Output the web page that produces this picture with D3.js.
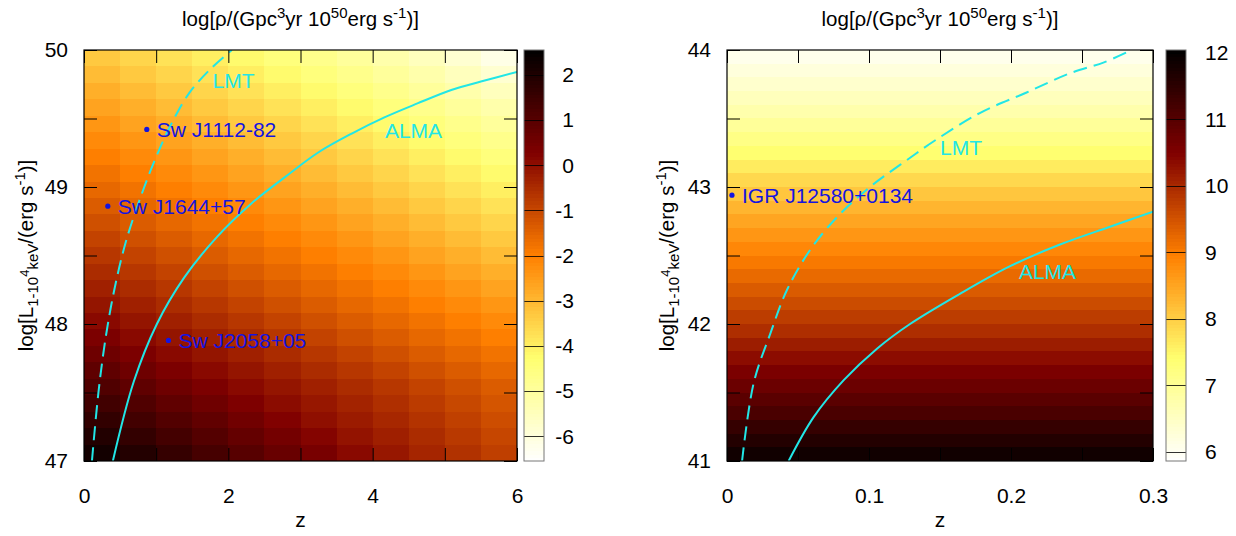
<!DOCTYPE html>
<html>
<head>
<meta charset="UTF-8">
<script src="https://d3js.org/d3.v7.min.js"></script>
<style>
  body { margin: 0; background: #fff; }
  svg text { font-family: 'Liberation Sans', Arial, Helvetica, sans-serif; }
  .tick line { stroke: #000; }
</style>
</head>
<body>
<svg id="chart" width="1236" height="536"></svg>
<script>
// ---- values ----

// left panel: cell centres (z, log L) and log rho per cell, rows go up in L
const leftZ = [0.25, 0.75, 1.25, 1.75, 2.25, 2.75, 3.25, 3.75, 4.25, 4.75, 5.25, 5.75];
const leftL = [47.06, 47.18, 47.30, 47.42, 47.54, 47.66, 47.78, 47.90, 48.02, 48.14, 48.26, 48.38, 48.50,
               48.62, 48.74, 48.86, 48.98, 49.10, 49.22, 49.34, 49.46, 49.58, 49.70, 49.82, 49.94];
const leftRho = [
  [ 2.22,  1.92,  1.61,  1.30,  1.00,  0.71,  0.41,  0.12, -0.14, -0.38, -0.61, -0.85],
  [ 1.95,  1.65,  1.35,  1.06,  0.77,  0.48,  0.20, -0.06, -0.28, -0.50, -0.74, -0.97],
  [ 1.67,  1.38,  1.10,  0.82,  0.54,  0.26,  0.01, -0.20, -0.42, -0.64, -0.87, -1.10],
  [ 1.40,  1.12,  0.85,  0.58,  0.31,  0.07, -0.14, -0.35, -0.56, -0.78, -1.00, -1.23],
  [ 1.13,  0.87,  0.60,  0.34,  0.11, -0.09, -0.29, -0.50, -0.71, -0.92, -1.14, -1.36],
  [ 0.87,  0.60,  0.34,  0.11, -0.09, -0.29, -0.50, -0.71, -0.92, -1.14, -1.36, -1.57],
  [ 0.60,  0.34,  0.11, -0.09, -0.29, -0.50, -0.71, -0.92, -1.14, -1.36, -1.57, -1.77],
  [ 0.34,  0.11, -0.09, -0.29, -0.50, -0.71, -0.92, -1.14, -1.36, -1.57, -1.77, -1.98],
  [ 0.11, -0.09, -0.29, -0.50, -0.71, -0.92, -1.14, -1.36, -1.57, -1.77, -1.98, -2.18],
  [-0.09, -0.29, -0.50, -0.71, -0.92, -1.14, -1.36, -1.57, -1.77, -1.98, -2.18, -2.39],
  [-0.29, -0.50, -0.71, -0.92, -1.14, -1.36, -1.57, -1.77, -1.98, -2.18, -2.39, -2.62],
  [-0.50, -0.71, -0.92, -1.14, -1.36, -1.57, -1.77, -1.98, -2.18, -2.39, -2.62, -2.84],
  [-0.71, -0.92, -1.14, -1.36, -1.57, -1.77, -1.98, -2.18, -2.39, -2.62, -2.84, -3.07],
  [-0.92, -1.14, -1.36, -1.57, -1.77, -1.98, -2.18, -2.39, -2.62, -2.84, -3.07, -3.30],
  [-1.14, -1.36, -1.57, -1.77, -1.98, -2.18, -2.39, -2.62, -2.84, -3.07, -3.30, -3.53],
  [-1.36, -1.57, -1.77, -1.98, -2.18, -2.39, -2.62, -2.84, -3.07, -3.30, -3.53, -3.76],
  [-1.57, -1.77, -1.98, -2.18, -2.39, -2.62, -2.84, -3.07, -3.30, -3.53, -3.76, -3.98],
  [-1.77, -1.98, -2.18, -2.39, -2.62, -2.84, -3.07, -3.30, -3.53, -3.76, -3.98, -4.21],
  [-1.98, -2.18, -2.39, -2.62, -2.84, -3.07, -3.30, -3.53, -3.76, -3.98, -4.21, -4.46],
  [-2.18, -2.39, -2.62, -2.84, -3.07, -3.30, -3.53, -3.76, -3.98, -4.21, -4.46, -4.71],
  [-2.39, -2.62, -2.84, -3.07, -3.30, -3.53, -3.76, -3.98, -4.21, -4.46, -4.71, -4.96],
  [-2.62, -2.84, -3.07, -3.30, -3.53, -3.76, -3.98, -4.21, -4.46, -4.71, -4.96, -5.22],
  [-2.84, -3.07, -3.30, -3.53, -3.76, -3.98, -4.21, -4.46, -4.71, -4.96, -5.22, -5.50],
  [-3.07, -3.30, -3.53, -3.76, -3.98, -4.21, -4.46, -4.71, -4.96, -5.22, -5.50, -5.82],
  [-3.30, -3.53, -3.76, -3.98, -4.21, -4.46, -4.71, -4.96, -5.22, -5.50, -5.82, -6.15]
];

// right panel: bands in L only (colour barely changes with z)
const rightL = [41.05, 41.15, 41.25, 41.35, 41.45, 41.55, 41.65, 41.75, 41.85, 41.95,
                42.05, 42.15, 42.25, 42.35, 42.45, 42.55, 42.65, 42.75, 42.85, 42.95,
                43.05, 43.15, 43.25, 43.35, 43.45, 43.55, 43.65, 43.75, 43.85, 43.95];
const rightRho = [11.84, 11.62, 11.40, 11.15, 10.95, 10.75, 10.55, 10.35, 10.15, 9.94,
                  9.76, 9.58, 9.40, 9.22, 9.04, 8.86, 8.68, 8.50, 8.30, 8.10,
                  7.88, 7.64, 7.40, 7.18, 6.96, 6.76, 6.58, 6.40, 6.24, 6.08];

// sensitivity curves
const lmtLeftZ  = [0.11, 0.2, 0.3, 0.42, 0.58, 0.8, 1.0, 1.2, 1.45, 1.75, 2.05];
const lmtLeftL  = [47.0, 47.5, 47.9, 48.25, 48.6, 48.95, 49.22, 49.45, 49.68, 49.86, 50.0];
const almaLeftZ = [0.4, 0.69, 1.01, 1.39, 1.85, 2.32, 2.78, 3.24, 3.71, 4.17, 4.62, 5.1, 5.5, 6.0];
const almaLeftL = [47.0, 47.58, 48.0, 48.34, 48.64, 48.88, 49.07, 49.25, 49.39, 49.51, 49.61, 49.71, 49.77, 49.84];
const lmtRightZ  = [0.0106, 0.0188, 0.0305, 0.0423, 0.0585, 0.0775, 0.1007, 0.1244, 0.148, 0.178, 0.211, 0.2415, 0.2655, 0.285];
const lmtRightL  = [41.0, 41.57, 41.93, 42.25, 42.54, 42.78, 43.0, 43.18, 43.35, 43.54, 43.69, 43.83, 43.91, 44.0];
const almaRightZ = [0.0434, 0.061, 0.0822, 0.1056, 0.1289, 0.164, 0.199, 0.2345, 0.2697, 0.3];
const almaRightL = [41.0, 41.32, 41.59, 41.82, 42.0, 42.22, 42.42, 42.58, 42.71, 42.82];

// observed sources
const leftSources  = [{name: 'Sw J1112-82', z: 0.87, L: 49.42},
                      {name: 'Sw J1644+57', z: 0.33, L: 48.86},
                      {name: 'Sw J2058+05', z: 1.17, L: 47.88}];
const rightSources = [{name: 'IGR J12580+0134', z: 0.0035, L: 42.94}];

// curve labels
const leftCurveLabels  = [{name: 'LMT', z: 1.78, L: 49.72}, {name: 'ALMA', z: 4.17, L: 49.36}];
const rightCurveLabels = [{name: 'LMT', z: 0.15, L: 43.23}, {name: 'ALMA', z: 0.2056, L: 42.33}];

// axes
const leftXTicks = [0, 1, 2, 3, 4, 5, 6],           leftXLabels = [0, 2, 4, 6];
const rightXTicks = [0, 0.05, 0.1, 0.15, 0.2, 0.25, 0.3], rightXLabels = [0, 0.1, 0.2, 0.3];
const leftYTicks = [47, 47.5, 48, 48.5, 49, 49.5, 50],   leftYLabels = [47, 48, 49, 50];
const rightYTicks = [41, 41.5, 42, 42.5, 43, 43.5, 44],  rightYLabels = [41, 42, 43, 44];
const leftCbTicks = [-6, -5, -4, -3, -2, -1, 0, 1, 2];
const rightCbTicks = [6, 7, 8, 9, 10, 11, 12];

// ---- drawing ----
const svg = d3.select('#chart');
svg.append('rect').attr('width', 1236).attr('height', 536).attr('fill', '#fff');

const palette = ['#ffffff', '#ffff70', '#ff8000', '#800000', '#000000'];
const cyan = '#22e6e6';
const blue = '#1414e0';
const fs = 21;

function addParts(textSel, parts) {
  parts.forEach(p => textSel.append('tspan').attr('font-size', p[1]).attr('dy', p[2]).text(p[0]));
}

const titleParts = [['log[ρ/(Gpc', 20.5, 0], ['3', 15, -8], ['yr 10', 20.5, 8], ['50', 15, -8],
                    ['erg s', 20.5, 8], ['-1', 15, -8], [')]', 20.5, 8]];
const yLabelParts = [['log[L', 20.5, 0], ['1-10', 15, 5], ['4', 13, -9], ['keV', 15, 9],
                     ['/(erg s', 20.5, -5], ['-1', 15, -8], [')]', 20.5, 8]];

function drawPanel(p, id) {
  const x = d3.scaleLinear().domain(p.xDomain).range([p.left, p.right]);
  const y = d3.scaleLinear().domain(p.yDomain).range([p.bottom, p.top]);
  const [c0, c1] = p.cbDomain;
  const color = d3.scaleLinear()
    .domain(palette.map((d, k) => c0 + k * (c1 - c0) / (palette.length - 1)))
    .range(palette).clamp(true);

  const g = svg.append('g').attr('id', id);
  g.append('clipPath').attr('id', id + '-clip')
    .append('rect').attr('x', p.left).attr('y', p.top)
    .attr('width', p.right - p.left).attr('height', p.bottom - p.top);

  // heat map cells
  const cellG = g.append('g').attr('clip-path', `url(#${id}-clip)`);
  cellG.selectAll('rect').data(p.cells).join('rect')
    .attr('x', d => Math.round(x(d.z0)))
    .attr('y', d => Math.round(y(d.L1)))
    .attr('width', d => Math.round(x(d.z1)) - Math.round(x(d.z0)))
    .attr('height', d => Math.round(y(d.L0)) - Math.round(y(d.L1)))
    .attr('fill', d => color(d.v))
    .attr('shape-rendering', 'crispEdges');

  // curves
  const line = d3.line().x(d => x(d[0])).y(d => y(d[1])).curve(d3.curveCatmullRom);
  const curveG = g.append('g').attr('clip-path', `url(#${id}-clip)`);
  curveG.append('path').datum(p.lmtZ.map((z, i) => [z, p.lmtL[i]]))
    .attr('d', line).attr('fill', 'none').attr('stroke', cyan)
    .attr('stroke-width', 2).attr('stroke-dasharray', '14,7');
  curveG.append('path').datum(p.almaZ.map((z, i) => [z, p.almaL[i]]))
    .attr('d', line).attr('fill', 'none').attr('stroke', cyan).attr('stroke-width', 2);

  g.selectAll('text.curve').data(p.curveLabels).join('text').attr('class', 'curve')
    .attr('x', d => x(d.z)).attr('y', d => y(d.L))
    .attr('font-size', fs).attr('fill', cyan).text(d => d.name);

  // sources
  g.selectAll('circle.src').data(p.sources).join('circle').attr('class', 'src')
    .attr('cx', d => x(d.z)).attr('cy', d => y(d.L)).attr('r', 2.6).attr('fill', blue);
  g.selectAll('text.src').data(p.sources).join('text').attr('class', 'src')
    .attr('x', d => x(d.z) + 10).attr('y', d => y(d.L) + 7.5)
    .attr('font-size', fs).attr('fill', blue).text(d => d.name);

  // axes with inward ticks on all sides
  const fmt = d => String(d);
  const tickLen = 13;
  const ax = [
    g.append('g').attr('transform', `translate(0,${p.bottom})`)
      .call(d3.axisBottom(x).tickValues(p.xTicks).tickSize(-tickLen).tickPadding(27)
        .tickFormat(d => p.xLabels.includes(d) ? fmt(d) : '')),
    g.append('g').attr('transform', `translate(0,${p.top})`)
      .call(d3.axisTop(x).tickValues(p.xTicks).tickSize(-tickLen).tickFormat('')),
    g.append('g').attr('transform', `translate(${p.left},0)`)
      .call(d3.axisLeft(y).tickValues(p.yTicks).tickSize(-tickLen).tickPadding(16)
        .tickFormat(d => p.yLabels.includes(d) ? fmt(d) : '')),
    g.append('g').attr('transform', `translate(${p.right},0)`)
      .call(d3.axisRight(y).tickValues(p.yTicks).tickSize(-tickLen).tickFormat(''))
  ];
  ax.forEach(a => {
    a.select('.domain').remove();
    a.selectAll('text').attr('font-size', fs).attr('fill', '#000')
      .style('font-family', "'Liberation Sans', Arial, sans-serif");
  });

  g.append('rect').attr('x', p.left).attr('y', p.top)
    .attr('width', p.right - p.left).attr('height', p.bottom - p.top)
    .attr('fill', 'none').attr('stroke', '#000').attr('stroke-width', 1.2);

  // colour box
  const cy = d3.scaleLinear().domain(p.cbDomain).range([p.bottom, p.top]);
  const steps = d3.range(0, 120);
  const stepV = (c1 - c0) / steps.length;
  g.append('g').selectAll('rect').data(steps).join('rect')
    .attr('x', p.cbLeft).attr('width', p.cbWidth)
    .attr('y', k => Math.floor(cy(c0 + (k + 1) * stepV)))
    .attr('height', k => Math.ceil(cy(c0 + k * stepV)) - Math.floor(cy(c0 + (k + 1) * stepV)))
    .attr('fill', k => color(c0 + (k + 0.5) * stepV))
    .attr('shape-rendering', 'crispEdges');
  g.append('g').selectAll('line').data(p.cbTicks).join('line')
    .attr('x1', p.cbLeft).attr('x2', p.cbLeft + p.cbWidth)
    .attr('y1', d => Math.round(cy(d)) + 0.5).attr('y2', d => Math.round(cy(d)) + 0.5)
    .attr('stroke', '#000').attr('stroke-width', 1).attr('opacity', 0.8);
  g.append('rect').attr('x', p.cbLeft).attr('y', p.top)
    .attr('width', p.cbWidth).attr('height', p.bottom - p.top)
    .attr('fill', 'none').attr('stroke', '#777').attr('stroke-width', 1);
  g.append('g').selectAll('text').data(p.cbTicks).join('text')
    .attr('x', p.cbLabelX).attr('y', d => cy(d)).attr('dy', '0.35em')
    .attr('text-anchor', p.cbAnchor).attr('font-size', fs).text(d => d);

  // titles
  const cx = (p.left + p.right) / 2;
  addParts(g.append('text').attr('x', cx).attr('y', 26).attr('text-anchor', 'middle'), titleParts);
  g.append('text').attr('x', cx).attr('y', 527).attr('text-anchor', 'middle')
    .attr('font-size', fs).text('z');
  addParts(g.append('text').attr('text-anchor', 'middle')
    .attr('transform', `translate(${p.yLabelX},${(p.top + p.bottom) / 2}) rotate(-90)`), yLabelParts);
}

const lz = (leftZ[1] - leftZ[0]) / 2, lh = (leftL[1] - leftL[0]) / 2;
const leftCells = leftRho.flatMap((row, i) => row.map((v, j) => ({
  z0: leftZ[j] - lz, z1: leftZ[j] + lz, L0: leftL[i] - lh, L1: leftL[i] + lh, v
})));
const rh = (rightL[1] - rightL[0]) / 2;
const rightCells = rightRho.map((v, i) => ({
  z0: rightXTicks[0], z1: rightXTicks[rightXTicks.length - 1], L0: rightL[i] - rh, L1: rightL[i] + rh, v
}));

drawPanel({
  left: 84, right: 517, top: 50, bottom: 461,
  xDomain: [0, 6], yDomain: [47, 50], cbDomain: [-6.55, 2.55],
  cells: leftCells,
  lmtZ: lmtLeftZ, lmtL: lmtLeftL, almaZ: almaLeftZ, almaL: almaLeftL,
  curveLabels: leftCurveLabels, sources: leftSources,
  xTicks: leftXTicks, xLabels: leftXLabels, yTicks: leftYTicks, yLabels: leftYLabels,
  cbTicks: leftCbTicks, cbLeft: 524, cbWidth: 20, cbLabelX: 574, cbAnchor: 'end',
  yLabelX: 33
}, 'left');

drawPanel({
  left: 727, right: 1153, top: 50, bottom: 461,
  xDomain: [0, 0.3], yDomain: [41, 44], cbDomain: [5.86, 12.04],
  cells: rightCells,
  lmtZ: lmtRightZ, lmtL: lmtRightL, almaZ: almaRightZ, almaL: almaRightL,
  curveLabels: rightCurveLabels, sources: rightSources,
  xTicks: rightXTicks, xLabels: rightXLabels, yTicks: rightYTicks, yLabels: rightYLabels,
  cbTicks: rightCbTicks, cbLeft: 1166, cbWidth: 20, cbLabelX: 1205, cbAnchor: 'start',
  yLabelX: 674
}, 'right');
</script>
</body>
</html>
